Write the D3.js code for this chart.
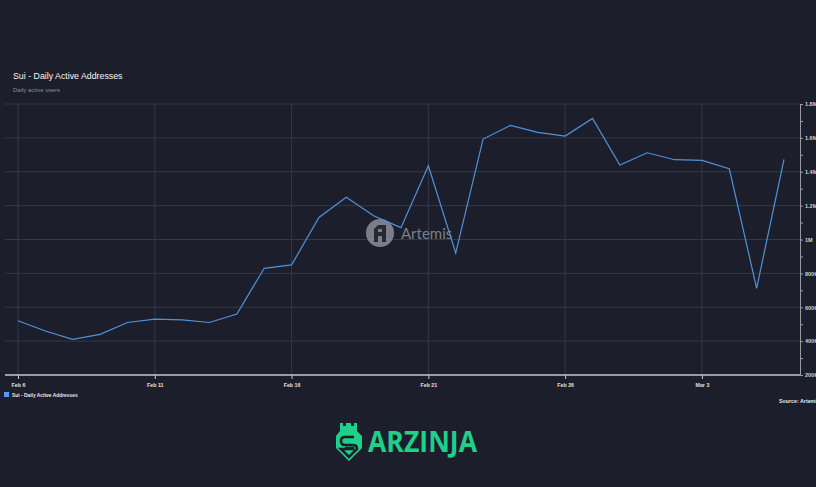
<!DOCTYPE html>
<html><head><meta charset="utf-8">
<script src="https://cdn.jsdelivr.net/npm/d3@7"></script>
<style>
html,body{margin:0;padding:0;background:#1c1f2b;}
svg{display:block;font-family:"Liberation Sans",Arial,sans-serif;}
</style></head>
<body><svg id="c" width="816" height="487"></svg>
<script>
const dates = ["2025-02-06","2025-02-07","2025-02-08","2025-02-09","2025-02-10","2025-02-11","2025-02-12","2025-02-13","2025-02-14","2025-02-15","2025-02-16","2025-02-17","2025-02-18","2025-02-19","2025-02-20","2025-02-21","2025-02-22","2025-02-23","2025-02-24","2025-02-25","2025-02-26","2025-02-27","2025-02-28","2025-03-01","2025-03-02","2025-03-03","2025-03-04","2025-03-05","2025-03-06"];
const dailyActive = [520000,460000,410000,440000,510000,530000,525000,510000,560000,830000,850000,1130000,1250000,1140000,1070000,1435000,920000,1593000,1674000,1633000,1611000,1715000,1440000,1512000,1471000,1467000,1418000,712000,1473000];
const yTicks = [200000,400000,600000,800000,1000000,1200000,1400000,1600000,1800000];
const xTickDates = ["2025-02-06","2025-02-11","2025-02-16","2025-02-21","2025-02-26","2025-03-03"];
const title = "Sui - Daily Active Addresses";
const subtitle = "Daily active users";
const seriesName = "Sui - Daily Active Addresses";
const source = "Source: Artemis";

const parse = d3.timeParse("%Y-%m-%d");
const data = dates.map((d,i)=>({date:parse(d), v:dailyActive[i]}));
const svg = d3.select("#c");
const L=5, R=800, T=104, B=375;
const x = d3.scaleTime().domain([parse("2025-02-06"), parse("2025-03-06")]).range([18,784]);
const y = d3.scaleLinear().domain([200000,1800000]).range([B,T]);

svg.append("rect").attr("width",816).attr("height",487).attr("fill","#1c1f2b");

// title
svg.append("text").attr("x",13).attr("y",79).attr("fill","#f4f4f4").attr("font-size",8.8).text(title);
svg.append("text").attr("x",13).attr("y",92).attr("fill","#8a8d96").attr("font-size",6).text(subtitle);

// grid
const g = svg.append("g");
g.selectAll(".hg").data(yTicks).join("line").attr("x1",L).attr("x2",R)
  .attr("y1",d=>y(d)).attr("y2",d=>y(d)).attr("stroke","#343847").attr("stroke-width",1);
g.selectAll(".vg").data(xTickDates.map(parse)).join("line").attr("x1",d=>x(d)).attr("x2",d=>x(d))
  .attr("y1",T).attr("y2",B).attr("stroke","#343847").attr("stroke-width",1);

// watermark
const wm = svg.append("g").attr("opacity",0.75);
wm.append("circle").attr("cx",380).attr("cy",233).attr("r",14).attr("fill","#9c9ea6");
wm.append("path").attr("d","M374,242 L374,229 L378,225 L386,225 L386,242 L382,242 L382,236 L378,236 L378,242 Z M378,232 L382,232 L382,229 L378,229 Z")
  .attr("fill","#2a2d38").attr("fill-rule","evenodd");
wm.append("text").attr("x",401).attr("y",239).attr("fill","#9c9ea6").attr("font-size",15).attr("font-family","Lato, 'Open Sans', sans-serif").text("Artemis");

// line
svg.append("path").datum(data).attr("fill","none").attr("stroke","#4f92dc").attr("stroke-width",1.2)
  .attr("stroke-linejoin","miter")
  .attr("d", d3.line().x(d=>x(d.date)).y(d=>y(d.v)));

// right axis
const ya = svg.append("g").attr("transform",`translate(${R},0)`)
  .call(d3.axisRight(y).tickValues(d3.range(200000,1800001,100000)).tickSize(3)
    .tickFormat(d=> yTicks.includes(d) ? (d>=1000000 ? d3.format(".2~f")(d/1e6)+"M" : (d/1000)+"K") : ""));
ya.select(".domain").attr("stroke","#9a9ca3").attr("stroke-width",1);
ya.selectAll(".tick line").attr("stroke","#9a9ca3");
ya.selectAll(".tick text").attr("fill","#d0d0d0").attr("font-size",5.5).attr("font-weight","bold").attr("x",5);

// bottom axis
const xa = svg.append("g").attr("transform",`translate(0,${B})`);
xa.append("line").attr("x1",L).attr("x2",R).attr("y1",0).attr("y2",0).attr("stroke","#9a9ca3").attr("stroke-width",2);
const xax = xa.append("g").call(d3.axisBottom(x).tickValues(xTickDates.map(parse)).tickSize(4).tickFormat(d3.timeFormat("%b %-d")));
xax.select(".domain").remove();
xax.selectAll(".tick line").attr("stroke","#c8c8c8");
xax.selectAll(".tick text").attr("fill","#e0e0e0").attr("font-size",5.3).attr("font-weight","bold").attr("dy","0.9em");

// legend
svg.append("rect").attr("x",4).attr("y",392).attr("width",5).attr("height",5).attr("fill","#4f9cf0");
svg.append("text").attr("x",12).attr("y",397).attr("fill","#e8e8e8").attr("font-size",4.9).attr("font-weight","bold").text(seriesName);
svg.append("text").attr("x",779).attr("y",403).attr("fill","#e8e8e8").attr("font-size",5.3).attr("font-weight","bold").text(source);

// logo
const lg = svg.append("g").attr("fill","#1fcf8a");
lg.append("path").attr("d","M340,423 L343,423 L343,426 L346,426 L346,423 L351,423 L351,426 L354,426 L354,423 L357,423 L357,431 L362,436 L362,448 L349,461 L336,448 L336,436 L340,431 Z")
  .attr("fill","#1fcf8a");
lg.append("path").attr("d","M354,437 L345,437 Q341,437 341,441 Q341,445 345,445 L353,445 Q357,445 357,449 L349,457 L341,449 L345,449 L353,449 L353,448 L345,448")
  .attr("fill","none").attr("stroke","#1c1f2b").attr("stroke-width",2.6);
lg.append("text").attr("x",368).attr("y",452).attr("font-size",28).attr("font-weight","bold")
  .attr("font-family","'Open Sans', 'Noto Sans', sans-serif")
  .attr("textLength",109).attr("lengthAdjust","spacingAndGlyphs").text("ARZINJA");
</script></body></html>
